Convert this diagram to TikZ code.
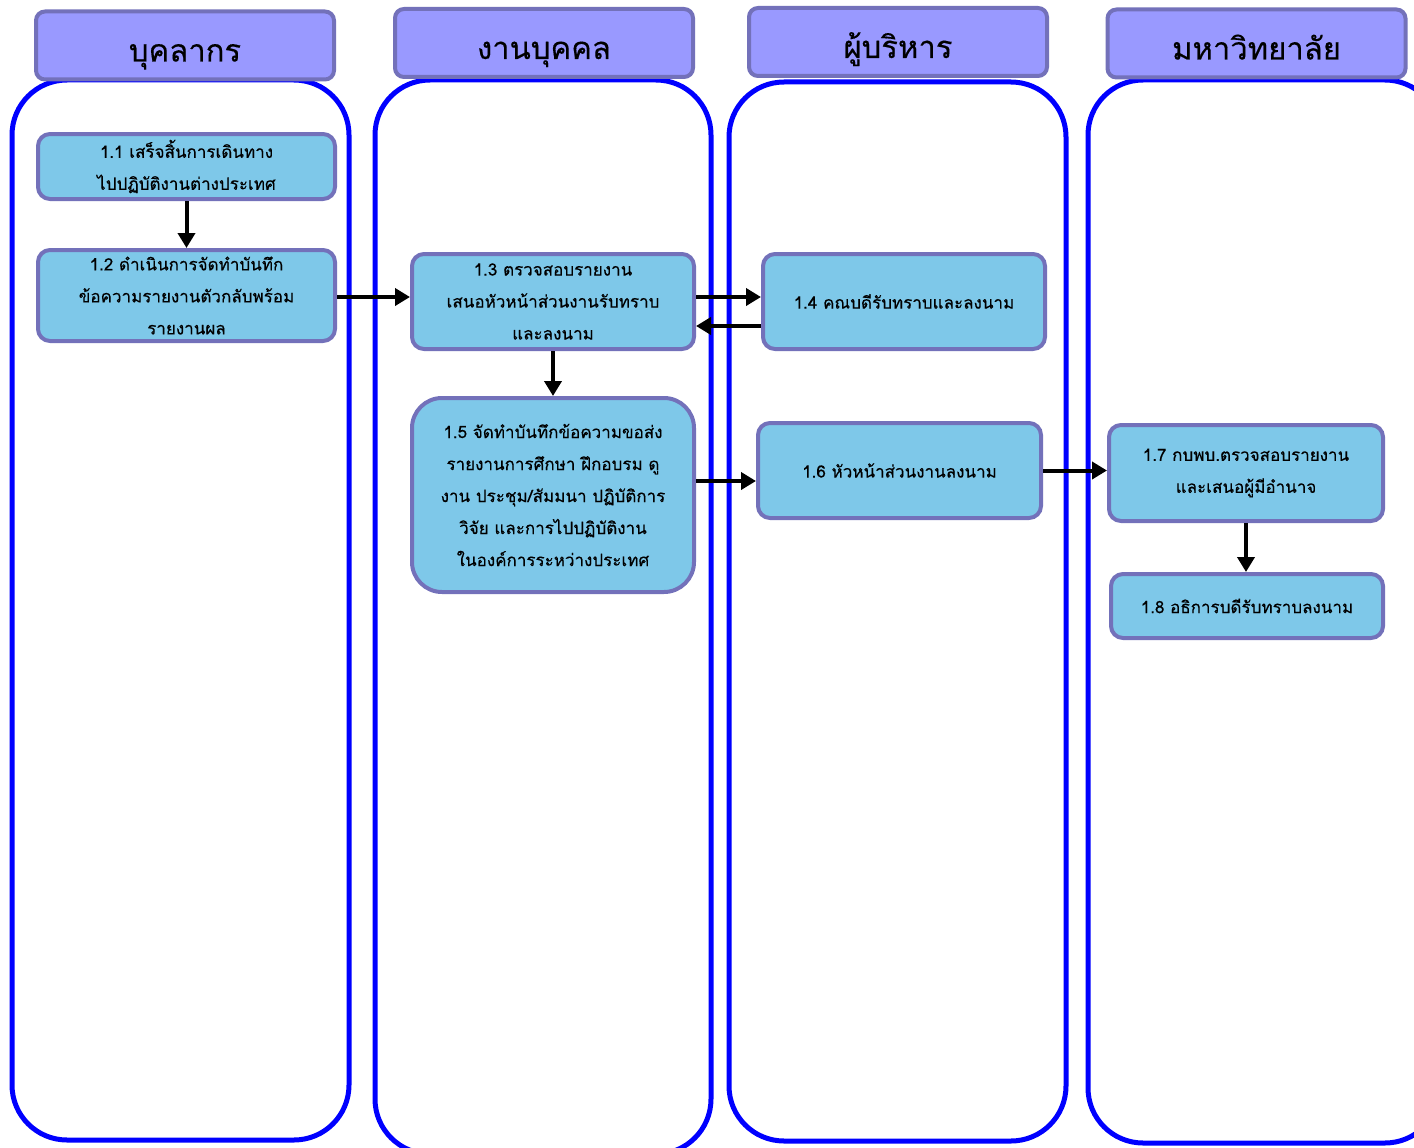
\documentclass[tikz,border=0pt]{standalone}
\usepackage{fontspec}
\setmainfont[Script=Thai]{Loma}
\newfontfamily\stepfont[Script=Thai,FakeBold=0.35]{Loma}
\usetikzlibrary{arrows.meta}
\definecolor{lanecol}{HTML}{0000FF}
\definecolor{headfill}{HTML}{9999FF}
\definecolor{edgecol}{HTML}{7371BA}
\definecolor{boxfill}{HTML}{7EC8E9}

\begin{document}
\begin{tikzpicture}
[x=1pt,y=-1pt,
 lane/.style={draw=lanecol,line width=5pt,rounded corners=55pt},
 head/.style={draw=edgecol,fill=headfill,line width=4pt,rounded corners=9pt,
   minimum width=298pt,minimum height=68pt,text height=34pt,text depth=2pt,
   font=\stepfont\fontsize{31}{36}\selectfont},
 stepbox/.style={draw=edgecol,fill=boxfill,line width=4pt,rounded corners=12pt,
   align=center,font=\stepfont\fontsize{17}{32}\selectfont},
 be/.style={draw=black,line width=4pt,-{Triangle[length=15pt,width=17pt]}}]
\useasboundingbox (0,0) rectangle (1414,1148);
\clip (0,0) rectangle (1414,1148);

% swimlanes
\draw[lane] (12,80) rectangle (349,1140);
\draw[lane] (375,80) rectangle (711,1154);
\draw[lane] (729,82) rectangle (1066,1141);
\draw[lane] (1088,80) rectangle (1440,1143);

% lane headers
\node[head] (h1) at (185,45.5) {บุคลากร};
\node[head] (h2) at (544,43) {งานบุคคล};
\node[head] (h3) at (898,42) {ผู้บริหาร};
\node[head] (h4) at (1256.5,43.5) {มหาวิทยาลัย};

% steps
\node[stepbox,minimum width=297pt,minimum height=65pt] (b11) at (186.5,166.5)
  {1.1 เสร็จสิ้นการเดินทาง\\ไปปฏิบัติงานต่างประเทศ};
\node[stepbox,minimum width=297pt,minimum height=91pt] (b12) at (186.5,295.5)
  {1.2 ดำเนินการจัดทำบันทึก\\ข้อความรายงานตัวกลับพร้อม\\รายงานผล};
\node[stepbox,minimum width=282pt,minimum height=95pt] (b13) at (553,301.5)
  {1.3 ตรวจสอบรายงาน\\เสนอหัวหน้าส่วนงานรับทราบ\\และลงนาม};
\node[stepbox,minimum width=282pt,minimum height=95pt] (b14) at (904,301.5)
  {1.4 คณบดีรับทราบและลงนาม};
\node[stepbox,rounded corners=30pt,minimum width=282pt,minimum height=194pt] (b15) at (553,495)
  {1.5 จัดทำบันทึกข้อความขอส่ง\\รายงานการศึกษา ฝึกอบรม ดู\\งาน ประชุม/สัมมนา ปฏิบัติการ\\วิจัย และการไปปฏิบัติงาน\\ในองค์การระหว่างประเทศ};
\node[stepbox,minimum width=283pt,minimum height=95pt] (b16) at (899.5,470.5)
  {1.6 หัวหน้าส่วนงานลงนาม};
\node[stepbox,minimum width=274pt,minimum height=96pt] (b17) at (1246,473)
  {1.7 กบพบ.ตรวจสอบรายงาน\\และเสนอผู้มีอำนาจ};
\node[stepbox,minimum width=272pt,minimum height=64pt] (b18) at (1247,606)
  {1.8 อธิการบดีรับทราบลงนาม};

% flow
\draw[be] (b11.south) -- (b12.north);
\draw[be] ([yshift=-1.5pt]b12.east) -- ([yshift=4.5pt]b13.west);
\draw[be] ([yshift=4.5pt]b13.east) -- ([yshift=4.5pt]b14.west);
\draw[be] ([yshift=-24.5pt]b14.west) -- ([yshift=-24.5pt]b13.east);
\draw[be] (b13.south) -- (b15.north);
\draw[be] ([yshift=-10.5pt]b16.west -| b15.east) -- ([yshift=-10.5pt]b16.west);
\draw[be] (b16.east) -- (b16.east -| b17.west);
\draw[be] (b17.south) -- (b17.south |- b18.north);

\end{tikzpicture}
\end{document}
